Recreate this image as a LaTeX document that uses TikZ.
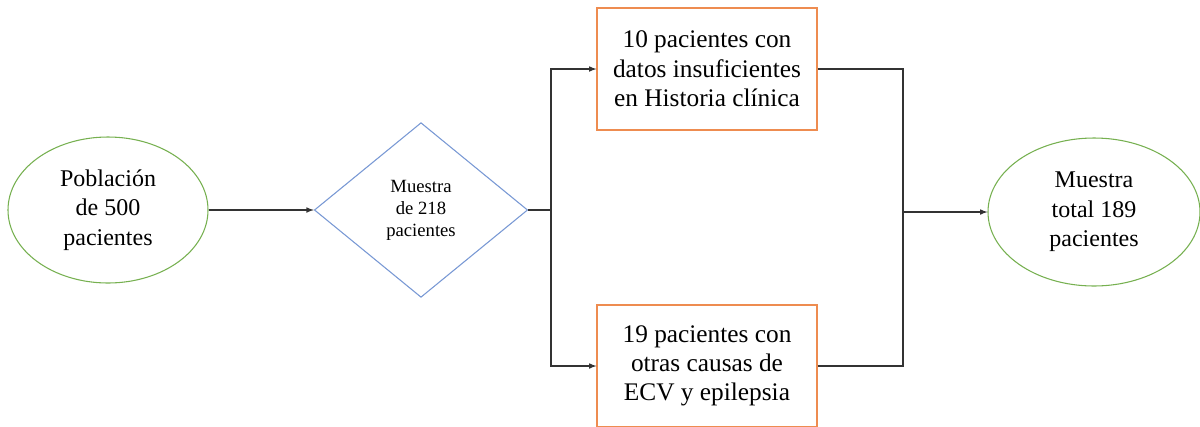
\documentclass[tikz,border=0pt]{standalone}
\usepackage{fontspec}
\setmainfont{Liberation Serif}
\usepackage{xcolor}
\usetikzlibrary{shapes.geometric}
\usetikzlibrary{arrows,calc}
\definecolor{verde}{RGB}{118,176,80}
\definecolor{azul}{RGB}{120,152,212}
\definecolor{naranja}{RGB}{238,140,80}
\tikzset{
	elipse/.style={
			ellipse,draw=verde,line width=0.8pt,inner sep=0pt,align=center,
			font=\fontsize{18}{22}\selectfont
		},
	rombo/.style={
			diamond,draw=azul,line width=0.8pt,inner sep=0pt,align=center,
			minimum width=160pt,minimum height=131pt,
			font=\fontsize{14}{16.5}\selectfont
		},
	caja/.style={
			rectangle,draw=naranja,line width=0.8pt,align=center,
			minimum width=165pt,minimum height=91.5pt,
			font=\fontsize{19}{22}\selectfont
		},
	linea/.style={color=black!80,line width=0.9pt}
}

\begin{document}
\begin{tikzpicture}[x=0.75pt,y=-0.75pt]
		\useasboundingbox (0,0) rectangle (1200,426);
		\node [elipse,minimum width=150pt,minimum height=109.5pt] (poblacion) at (108,210) {Población\\de 500\\pacientes};
		\node [rombo] (muestra) at (421,210) {Muestra\\de 218\\pacientes};
		\node [caja] (datos) at (707,69) {10 pacientes con\\datos insuficientes\\en Historia clínica};
		\node [caja] (otras) at (707,366) {19 pacientes con\\otras causas de\\ECV y epilepsia};
		\node [elipse,minimum width=159pt,minimum height=111pt] (total) at (1094,212) {Muestra\\total 189\\pacientes};
		\coordinate (ramaA) at (551,210);
		\coordinate (ramaB) at (903,212);
		\draw [linea,-latex] (poblacion) -- (muestra);
		\draw [linea] (muestra.east) -- (ramaA);
		\draw [linea,-latex] (ramaA) |- (datos.west);
		\draw [linea,-latex] (ramaA) |- (otras.west);
		\draw [linea] (datos.east) -| (ramaB);
		\draw [linea] (otras.east) -| (ramaB);
		\draw [linea,-latex] (ramaB) -- (total);
	\end{tikzpicture}
\end{document}
